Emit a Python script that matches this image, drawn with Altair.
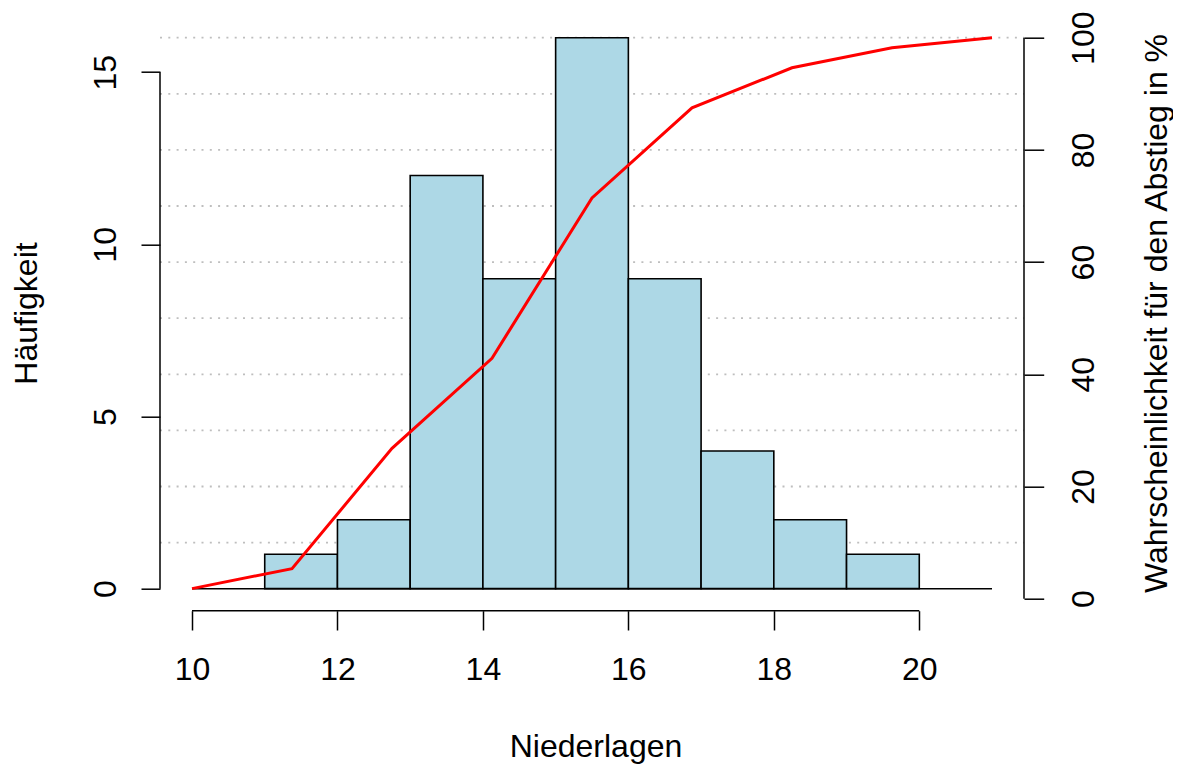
import altair as alt
import pandas as pd

# ---- data ----
bin_start = [11, 12, 13, 14, 15, 16, 17, 18, 19]
bin_end = [12, 13, 14, 15, 16, 17, 18, 19, 20]
counts = [1, 2, 12, 9, 16, 9, 4, 2, 1]

line_x = [10, 11.375, 12.75, 14.125, 15.5, 16.875, 18.25, 19.625, 21]
line_pct = [1.79, 5.36, 26.79, 42.86, 71.43, 87.5, 94.64, 98.21, 100]

grid_pct = [10, 20, 30, 40, 50, 60, 70, 80, 90, 100]
x_ticks = [10, 12, 14, 16, 18, 20]
left_ticks = [0, 5, 10, 15]
right_ticks = [0, 20, 40, 60, 80, 100]
baseline_span = [10, 21]

# ---- layout ----
W, H = 864, 595
FONT = "Liberation Sans"
FS = 32

xscale = alt.Scale(domain=[9.56, 21.44], nice=False, zero=False)
cscale = alt.Scale(domain=[-0.64, 16.64], nice=False, zero=False)
pscale = alt.Scale(domain=[-2.14, 103.92], nice=False, zero=False)

x_axis = alt.Axis(
    values=x_ticks, title="Niederlagen", domain=False, grid=False,
    tickSize=19.3, tickWidth=1.5, tickColor="black",
    labelPadding=49.3, labelBaseline="alphabetic", labelAlign="center",
    labelFlush=False, labelOverlap=False,
    titleX=435.5, titleY=145.3, titleAlign="center",
    titleBaseline="alphabetic", titleAnchor="start",
)

df_bars = pd.DataFrame({"start": bin_start, "end": bin_end, "count": counts})
df_line = pd.DataFrame({"x": line_x, "pct": line_pct})
df_grid = pd.DataFrame({"p": grid_pct})

grid = alt.Chart(df_grid).mark_rule(
    color="#BEBEBE", strokeWidth=1.8, strokeDash=[2, 6.3]
).encode(
    y=alt.Y("p:Q", scale=pscale, axis=None),
    x=alt.value(0),
    x2=alt.value(W),
)

bars = alt.Chart(df_bars).mark_rect(
    fill="#ADD8E6", stroke="black", strokeWidth=1.6
).encode(
    x=alt.X("start:Q", scale=xscale, axis=x_axis),
    x2="end:Q",
    y=alt.Y(
        "count:Q",
        scale=cscale,
        axis=alt.Axis(
            orient="left", values=left_ticks, title="Häufigkeit",
            domain=False, grid=False,
            tickSize=19, tickWidth=1.5, tickColor="black",
            labelPadding=26, labelAngle=270, labelAlign="center",
            labelBaseline="alphabetic", labelFlush=False, labelOverlap=False,
            titleAngle=270, titleX=-123.3, titleY=297.3,
            titleAlign="center", titleBaseline="alphabetic",
        ),
    ),
    y2=alt.datum(0),
)

df_base = pd.DataFrame({"a": [baseline_span[0]], "b": [baseline_span[1]], "y": [0]})
baseline = alt.Chart(df_base).mark_rule(color="black", strokeWidth=1.5).encode(
    x=alt.X("a:Q", scale=xscale, axis=x_axis),
    x2="b:Q",
    y=alt.Y("y:Q", scale=cscale, axis=None),
)

df_xl = pd.DataFrame({"a": [x_ticks[0]], "b": [x_ticks[-1]]})
xaxis_line = alt.Chart(df_xl).mark_rule(color="black", strokeWidth=1.5).encode(
    x=alt.X("a:Q", scale=xscale, axis=x_axis),
    x2="b:Q",
    y=alt.value(H),
)

df_ll = pd.DataFrame({"a": [left_ticks[0]], "b": [left_ticks[-1]]})
left_line = alt.Chart(df_ll).mark_rule(color="black", strokeWidth=1.5).encode(
    y=alt.Y("a:Q", scale=cscale, axis=None),
    y2="b:Q",
    x=alt.value(0),
)

df_rl = pd.DataFrame({"a": [right_ticks[0]], "b": [right_ticks[-1]]})
right_line = alt.Chart(df_rl).mark_rule(color="black", strokeWidth=1.5).encode(
    y=alt.Y("a:Q", scale=pscale, axis=None),
    y2="b:Q",
    x=alt.value(W),
)

line = alt.Chart(df_line).mark_line(color="#FF0000", strokeWidth=3).encode(
    x=alt.X("x:Q", scale=xscale, axis=x_axis),
    y=alt.Y(
        "pct:Q",
        scale=pscale,
        axis=alt.Axis(
            orient="right", values=right_ticks,
            title="Wahrscheinlichkeit für den Abstieg in %",
            domain=False, grid=False,
            tickSize=19.7, tickWidth=1.5, tickColor="black",
            labelPadding=49.5, labelAngle=270, labelAlign="center",
            labelBaseline="alphabetic", labelFlush=False, labelOverlap=False,
            titleAngle=270, titleX=142.7, titleY=297.3,
            titleAlign="center", titleBaseline="alphabetic",
        ),
    ),
)

chart = alt.layer(
    grid, bars, baseline, xaxis_line, left_line, right_line, line
).resolve_scale(y="independent").properties(
    width=W, height=H,
    autosize="none",
    padding={"left": 152, "top": 7.7, "right": 149, "bottom": 155.3},
).configure_view(stroke=None).configure_axis(
    labelFont=FONT, titleFont=FONT, labelFontSize=FS, titleFontSize=FS,
    labelColor="black", titleColor="black", titleFontWeight="normal",
)

chart.save("out.html", embed_options={"renderer": "svg", "actions": False})
